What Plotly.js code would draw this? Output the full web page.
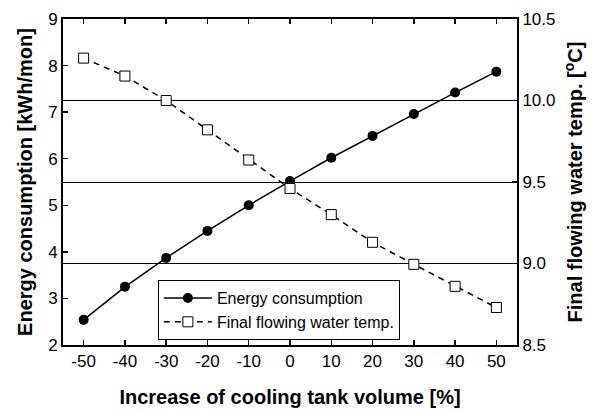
<!DOCTYPE html>
<html>
<head>
<meta charset="utf-8">
<script src="https://cdn.plot.ly/plotly-3.0.1.min.js"></script>
<style>
  html, body { margin: 0; padding: 0; background: #fff; }
  #chart { width: 600px; height: 410px; }
</style>
</head>
<body>
<div id="chart"></div>
<script>
// Change in cooling tank volume [%]
const volumeChange = [-50, -40, -30, -20, -10, 0, 10, 20, 30, 40, 50];
// Monthly energy consumption [kWh/mon]
const energyConsumption = [2.54, 3.25, 3.87, 4.45, 5.00, 5.52, 6.02, 6.49, 6.96, 7.42, 7.87];
// Final flowing water temperature [°C]
const finalWaterTemp = [10.26, 10.15, 10.00, 9.82, 9.635, 9.46, 9.30, 9.13, 8.995, 8.86, 8.73];

const xTickVals = [-50, -40, -30, -20, -10, 0, 10, 20, 30, 40, 50];
const yTickVals = [2, 3, 4, 5, 6, 7, 8, 9];
const y2TickVals = [8.5, 9.0, 9.5, 10.0, 10.5];

const FONT = '"Liberation Sans", Arial, Helvetica, sans-serif';

const traces = [
  {
    x: volumeChange,
    y: energyConsumption,
    name: 'Energy consumption',
    type: 'scatter',
    mode: 'lines+markers',
    line: { color: '#000', width: 1.5 },
    marker: { symbol: 'circle', size: 10, color: '#000' },
    yaxis: 'y'
  },
  {
    x: volumeChange,
    y: finalWaterTemp,
    name: 'Final flowing water temp.',
    type: 'scatter',
    mode: 'lines+markers',
    line: { color: '#000', width: 1.5, dash: '6px,5px' },
    marker: { symbol: 'square', size: 10, color: '#fff', line: { color: '#000', width: 1 } },
    yaxis: 'y2'
  }
];

const layout = {
  width: 600,
  height: 410,
  margin: { l: 63, r: 83, t: 19, b: 65, pad: 0 },
  paper_bgcolor: '#fff',
  plot_bgcolor: '#fff',
  font: { family: FONT, size: 17, color: '#000' },
  showlegend: true,
  legend: {
    x: 0.209, y: 0.199, xanchor: 'left', yanchor: 'top',
    bgcolor: '#fff', bordercolor: '#000', borderwidth: 1,
    font: { family: FONT, size: 16, color: '#000' },
    itemwidth: 48,
    tracegroupgap: 0
  },
  xaxis: {
    range: [-55, 55],
    tickvals: xTickVals,
    ticktext: xTickVals.map(String),
    ticks: 'inside', ticklen: 5, tickwidth: 1.5, tickcolor: '#000',
    showline: true, linewidth: 2, linecolor: '#000',
    mirror: 'ticks',
    showgrid: false, zeroline: false,
    tickfont: { family: FONT, size: 17 },
    title: { text: 'Increase of cooling tank volume [%]', font: { family: FONT, size: 20, weight: 'bold' }, standoff: 20 }
  },
  yaxis: {
    range: [2, 9],
    tickvals: yTickVals,
    ticks: 'inside', ticklen: 5, tickwidth: 1.5, tickcolor: '#000',
    showline: true, linewidth: 2, linecolor: '#000',
    showgrid: false, zeroline: false,
    tickfont: { family: FONT, size: 17 },
    title: { text: 'Energy consumption [kWh/mon]', font: { family: FONT, size: 20, weight: 'bold' }, standoff: 10 }
  },
  yaxis2: {
    overlaying: 'y',
    side: 'right',
    range: [8.5, 10.5],
    tickvals: y2TickVals,
    tickformat: '.1f',
    ticks: 'inside', ticklen: 5, tickwidth: 1.5, tickcolor: '#000',
    showline: true, linewidth: 2, linecolor: '#000',
    showgrid: true, gridcolor: '#000', gridwidth: 1,
    zeroline: false,
    tickfont: { family: FONT, size: 17 },
    title: { text: 'Final flowing water temp. [<sup>o</sup>C]', font: { family: FONT, size: 20, weight: 'bold' }, standoff: 14 }
  }
};

Plotly.newPlot('chart', traces, layout, { displayModeBar: false, staticPlot: true });
</script>
</body>
</html>
